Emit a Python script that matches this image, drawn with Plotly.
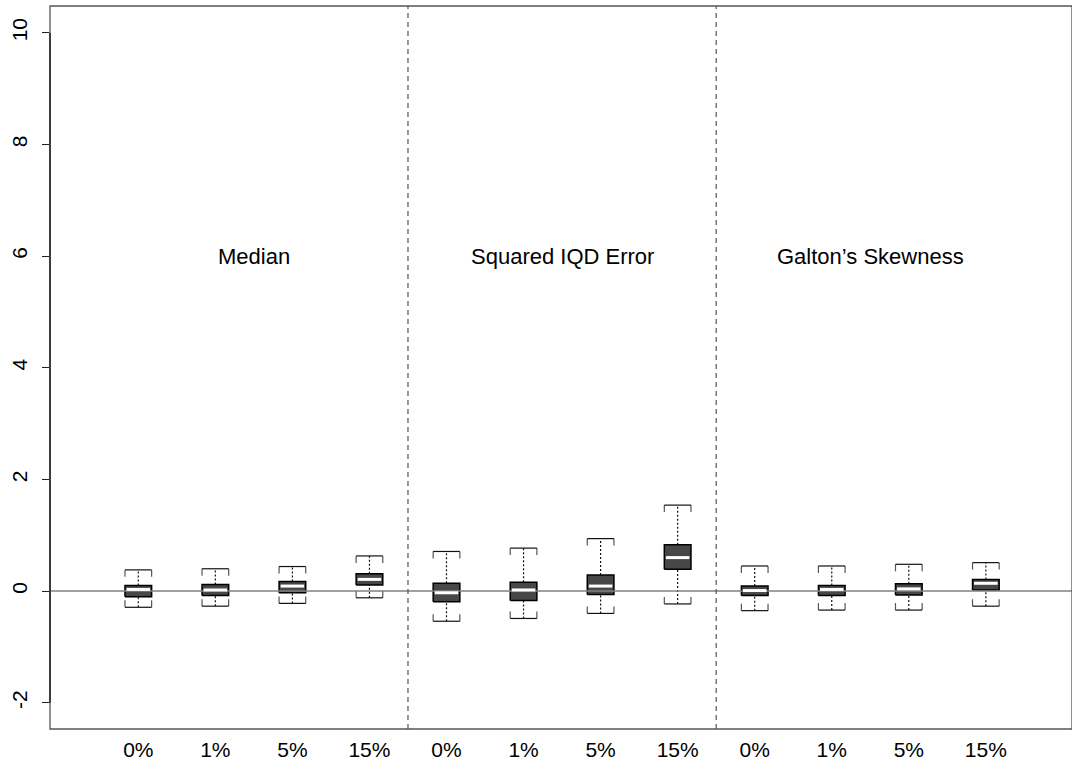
import plotly.graph_objects as go

# Contamination levels shown under each box, three panels of four
tick_labels = ["0%", "1%", "5%", "15%", "0%", "1%", "5%", "15%", "0%", "1%", "5%", "15%"]
panel_titles = ["Median", "Squared IQD Error", "Galton\u2019s Skewness"]

# Five-number summaries of the estimation error for each box
lower_whisker = [-0.29, -0.27, -0.22, -0.12, -0.54, -0.49, -0.40, -0.23, -0.35, -0.34, -0.34, -0.27]
q1 = [-0.10, -0.08, -0.03, 0.11, -0.19, -0.17, -0.06, 0.39, -0.08, -0.08, -0.07, 0.02]
median = [0.03, 0.02, 0.09, 0.21, -0.03, 0.02, 0.09, 0.60, 0.01, 0.03, 0.04, 0.14]
q3 = [0.10, 0.12, 0.17, 0.31, 0.14, 0.16, 0.29, 0.83, 0.09, 0.10, 0.13, 0.21]
upper_whisker = [0.38, 0.40, 0.44, 0.63, 0.71, 0.77, 0.94, 1.54, 0.45, 0.45, 0.48, 0.51]

y_ticks = [-2, 0, 2, 4, 6, 8, 10]

FONT = "Liberation Sans, Arial, Helvetica, sans-serif"
X_RANGE = [-0.146, 13.118]
Y_RANGE = [-2.47, 10.48]
HALF = 0.173   # half box width in x units
LEG = 0.125    # length of the staple legs in y units

positions = list(range(1, len(tick_labels) + 1))

whisk_x, whisk_y = [], []
cap_x, cap_y = [], []
leg_x, leg_y = [], []
box_x, box_y = [], []
med_x, med_y = [], []
for x, lo, a, m, b, hi in zip(positions, lower_whisker, q1, median, q3, upper_whisker):
    whisk_x += [x, x, None, x, x, None]
    whisk_y += [b, hi, None, lo, a, None]
    cap_x += [x - HALF, x + HALF, None, x - HALF, x + HALF, None]
    cap_y += [hi, hi, None, lo, lo, None]
    for xe in (x - HALF, x + HALF):
        leg_x += [xe, xe, None, xe, xe, None]
        leg_y += [hi, hi - LEG, None, lo, lo + LEG, None]
    box_x += [x - HALF, x + HALF, x + HALF, x - HALF, x - HALF, None]
    box_y += [a, a, b, b, a, None]
    med_x += [x - HALF + 0.02, x + HALF - 0.02, None]
    med_y += [m, m, None]

fig = go.Figure()
fig.add_trace(go.Scatter(x=whisk_x, y=whisk_y, mode="lines",
                         line=dict(color="#111111", width=1.2, dash="2px,2px"),
                         hoverinfo="skip", showlegend=False))
fig.add_trace(go.Scatter(x=leg_x, y=leg_y, mode="lines",
                         line=dict(color="#555555", width=1.2),
                         hoverinfo="skip", showlegend=False))
fig.add_trace(go.Scatter(x=cap_x, y=cap_y, mode="lines",
                         line=dict(color="#111111", width=1.2),
                         hoverinfo="skip", showlegend=False))
fig.add_trace(go.Scatter(x=box_x, y=box_y, mode="lines", fill="toself",
                         fillcolor="#474747",
                         line=dict(color="#000000", width=1.5),
                         hoverinfo="skip", showlegend=False))
# horizontal reference at zero, drawn across the boxes
fig.add_trace(go.Scatter(x=X_RANGE, y=[0, 0], mode="lines",
                         line=dict(color="#808080", width=1.5),
                         hoverinfo="skip", showlegend=False))
fig.add_trace(go.Scatter(x=med_x, y=med_y, mode="lines",
                         line=dict(color="#ffffff", width=3),
                         hoverinfo="skip", showlegend=False))

shapes = []
n_per = len(tick_labels) // len(panel_titles)
# dashed separators between panels
for g in range(1, len(panel_titles)):
    xb = g * n_per + 0.5
    shapes.append(dict(type="line", xref="x", yref="paper", x0=xb, x1=xb, y0=0, y1=1,
                       line=dict(color="#555555", width=1.2, dash="5px,4px")))
# plot frame
shapes.append(dict(type="rect", xref="paper", yref="paper", x0=0, x1=1, y0=0, y1=1,
                   line=dict(color="#555555", width=1.3)))
# left axis line spanning the tick range
shapes.append(dict(type="line", xref="paper", yref="y", x0=0, x1=0,
                   y0=y_ticks[0], y1=y_ticks[-1],
                   line=dict(color="#222222", width=1.5)))

annotations = []
for g, title in enumerate(panel_titles):
    annotations.append(dict(x=g * n_per + (n_per + 1) / 2, y=6, xref="x", yref="y",
                            text=title, showarrow=False,
                            font=dict(family=FONT, size=22, color="#000000"),
                            xanchor="center", yanchor="middle"))

fig.update_layout(
    width=1072, height=764,
    margin=dict(l=50, r=0, t=6, b=35),
    paper_bgcolor="white", plot_bgcolor="white",
    shapes=shapes, annotations=annotations,
    font=dict(family=FONT, size=21, color="#000000"),
    xaxis=dict(range=X_RANGE, tickmode="array", tickvals=positions, ticktext=tick_labels,
               showgrid=False, zeroline=False, showline=False, ticks="",
               tickfont=dict(family=FONT, size=21), ticklabelstandoff=6),
    yaxis=dict(range=Y_RANGE, tickmode="array", tickvals=y_ticks,
               ticktext=[str(v) for v in y_ticks],
               showgrid=False, zeroline=False, showline=False,
               ticks="outside", ticklen=7, tickcolor="#222222", tickwidth=1.3,
               tickangle=-90, tickfont=dict(family=FONT, size=21),
               ticklabelstandoff=7),
)

fig.write_html("out.html")
